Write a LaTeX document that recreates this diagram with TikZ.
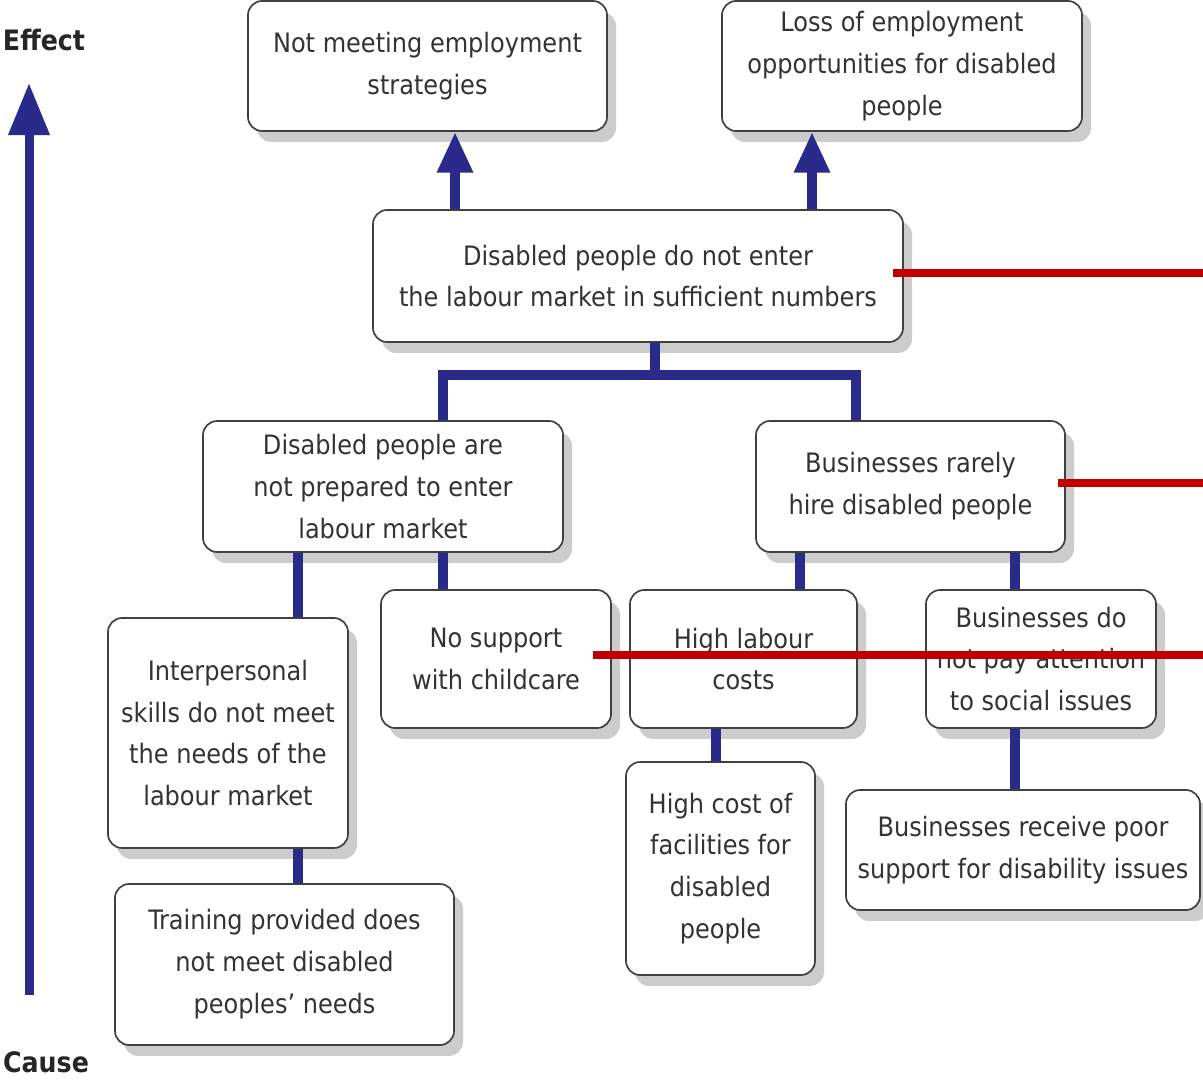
\documentclass[tikz,border=0pt]{standalone}
\usepackage{fontspec}
\setmainfont{DejaVu Sans Condensed}
\usetikzlibrary{arrows.meta,shadows}
\newdimen\pxu \pxu=0.025cm
\definecolor{navy}{HTML}{2A2A8A}
\definecolor{redl}{HTML}{C00000}
\definecolor{txt}{HTML}{333333}
\begin{document}
\begin{tikzpicture}[x=0.025cm,y=-0.025cm,
  box/.style={draw=black!75, line width=1.2pt, rounded corners=10pt, fill=white, align=center,
     text=txt, font=\fontsize{19}{29.8}\selectfont, inner sep=0pt,
     drop shadow={shadow xshift=6.4pt, shadow yshift=-7.8pt, fill=black, opacity=0.2}},
  conn/.style={draw=navy, line width=7pt},
  arr/.style={conn, -{Triangle[width=24pt,length=29pt]}},
  redline/.style={draw=redl, line width=5pt},
  lab/.style={font=\bfseries\fontsize{20}{24}\selectfont, text=black!85}]
\useasboundingbox (0,0) rectangle (1203,1081);
\fill[white] (0,0) rectangle (1203,1081);

\node[box, minimum width=359\pxu, minimum height=130\pxu] (n1) at (427.5,66) {Not meeting employment\\strategies};
\node[box, minimum width=360\pxu, minimum height=130\pxu] (n2) at (902,66) {Loss of employment\\opportunities for disabled\\people};
\node[box, minimum width=530\pxu, minimum height=132\pxu] (n3) at (638,276) {Disabled people do not enter\\the labour market in sufficient numbers};
\node[box, minimum width=360\pxu, minimum height=131\pxu] (n4) at (383,486.5) {Disabled people are\\not prepared to enter\\labour market};
\node[box, minimum width=309\pxu, minimum height=131\pxu] (n5) at (910.5,486.5) {Businesses rarely\\hire disabled people};
\node[box, minimum width=240\pxu, minimum height=230\pxu] (n6) at (228,733) {Interpersonal\\skills do not meet\\the needs of the\\labour market};
\node[box, minimum width=230\pxu, minimum height=138\pxu] (n7) at (496,659) {No support\\with childcare};
\node[box, minimum width=227\pxu, minimum height=138\pxu] (n8) at (743.5,659) {High labour\\costs};
\node[box, minimum width=230\pxu, minimum height=138\pxu] (n9) at (1041,659) {Businesses do\\not pay attention\\to social issues};
\node[box, minimum width=339\pxu, minimum height=161\pxu] (n10) at (284.5,964.5) {Training provided does\\not meet disabled\\peoples' needs};
\node[box, minimum width=189\pxu, minimum height=213\pxu] (n11) at (720.5,868.5) {High cost of\\facilities for\\disabled\\people};
\node[box, minimum width=354\pxu, minimum height=120\pxu] (n12) at (1023,850) {Businesses receive poor\\support for disability issues};

% connectors
\draw[arr] (n3.north -| 455,0) -- (n1.south -| 455,0);
\draw[arr] (n3.north -| 812,0) -- (n2.south -| 812,0);
\coordinate (j) at (655,375);
\draw[conn] (n3.south -| j) -- (j);
\draw[conn, line join=miter] (n4.north -| 443,0) -- (443,375) -- (856,375) -- (n5.north -| 856,0);
\draw[conn] (n4.south -| 298,0) -- (n6.north -| 298,0);
\draw[conn] (n4.south -| 443,0) -- (n7.north -| 443,0);
\draw[conn] (n5.south -| 800,0) -- (n8.north -| 800,0);
\draw[conn] (n5.south -| 1015,0) -- (n9.north -| 1015,0);
\draw[conn] (n6.south -| 298,0) -- (n10.north -| 298,0);
\draw[conn] (n8.south -| 716,0) -- (n11.north -| 716,0);
\draw[conn] (n9.south -| 1015,0) -- (n12.north -| 1015,0);

% effect/cause axis
\node[lab, anchor=center] (eff) at (44,40) {Effect};
\node[lab, anchor=center] (cau) at (46,1062) {Cause};
\coordinate (axb) at (29,995);
\coordinate (axt) at (29,83);
\draw[draw=navy, line width=6.4pt, -{Triangle[width=28pt,length=37pt]}] (axb) -- (axt);

% red lines
\coordinate (r1) at (1203,273);
\coordinate (r2) at (1203,483);
\coordinate (r3) at (1203,655);
\draw[redline] (893,273) -- (r1);
\draw[redline] (1058,483) -- (r2);
\draw[redline] (593,655) -- (r3);
\end{tikzpicture}
\end{document}
